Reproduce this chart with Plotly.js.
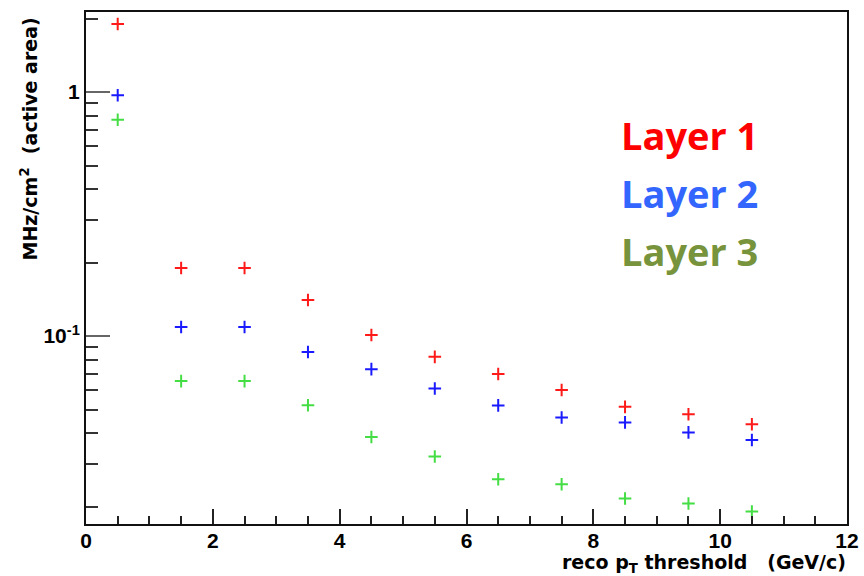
<!DOCTYPE html>
<html>
<head>
<meta charset="utf-8">
<script src="https://cdn.plot.ly/plotly-3.0.1.min.js"></script>
<style>html,body{margin:0;padding:0;background:#fff;}#chart{width:864px;height:576px;}</style>
</head>
<body>
<div id="chart"></div>
<script>
// data
var ptThreshold = [0.5, 1.5, 2.5, 3.5, 4.5, 5.5, 6.5, 7.5, 8.5, 9.5, 10.5];
var layer1 = [1.90, 0.190, 0.190, 0.1405, 0.101, 0.0822, 0.0699, 0.0601, 0.0513, 0.0478, 0.0435];
var layer2 = [0.97, 0.109, 0.109, 0.086, 0.0732, 0.0610, 0.0520, 0.0464, 0.0443, 0.0403, 0.0375];
var layer3 = [0.77, 0.0654, 0.0654, 0.0521, 0.0386, 0.0321, 0.0259, 0.0247, 0.0216, 0.0206, 0.0191];
var seriesNames = ["Layer 1", "Layer 2", "Layer 3"];
var xTickVals = [0, 2, 4, 6, 8, 10, 12];
var xTickText = ["0", "2", "4", "6", "8", "10", "12"];
var yTickVals = [0.1, 1];
var yTickText = ["10<sup>-1</sup>", "1"];
var yMinorVals = [0.02, 0.03, 0.04, 0.05, 0.06, 0.07, 0.08, 0.09, 0.2, 0.3, 0.4, 0.5, 0.6, 0.7, 0.8, 0.9, 2];

var markerColors = ["#ff1a1a", "#1a1aff", "#44dd44"];
var labelColors = ["#ff0000", "#3366ff", "#77933c"];

function tr(y, i) {
  return {
    x: ptThreshold, y: y, type: "scatter", mode: "markers", name: seriesNames[i],
    marker: {symbol: "cross-thin", size: 9, color: markerColors[i],
             line: {color: markerColors[i], width: 2}},
    showlegend: false, hoverinfo: "x+y"
  };
}
var data = [tr(layer1, 0), tr(layer2, 1), tr(layer3, 2)];

var tickFont = {family: "Liberation Sans, Arial, sans-serif", size: 21, color: "#000", weight: 700};
var titleFont = {family: "DejaVu Sans, sans-serif", size: 19, color: "#000", weight: 700};
var labelFont = {family: "Open Sans, sans-serif", size: 38, weight: 700};

var layout = {
  width: 864, height: 576,
  margin: {l: 86, r: 17, t: 12, b: 52},
  paper_bgcolor: "#fff", plot_bgcolor: "#fff",
  showlegend: false,
  xaxis: {
    range: [0, 12], tickmode: "array", tickvals: xTickVals, ticktext: xTickText,
    ticks: "inside", ticklen: 15, tickwidth: 2, tickcolor: "#222",
    showline: true, linecolor: "#111", linewidth: 2, mirror: true,
    showgrid: false, zeroline: false, tickfont: tickFont, ticklabelstandoff: -3,
    minor: {dtick: 0.5, ticks: "inside", ticklen: 8, tickwidth: 2, tickcolor: "#222", showgrid: false}
  },
  yaxis: {
    type: "log", range: [-1.770, 0.328], tickmode: "array", tickvals: yTickVals, ticktext: yTickText,
    ticks: "inside", ticklen: 24, tickwidth: 2, tickcolor: "#666",
    showline: true, linecolor: "#111", linewidth: 2, mirror: true,
    showgrid: false, zeroline: false, tickfont: tickFont,
    minor: {tickmode: "array", tickvals: yMinorVals, ticks: "inside", ticklen: 12, tickwidth: 2, tickcolor: "#333", showgrid: false}
  },
  annotations: [
    {xref: "paper", yref: "paper", x: 1.0, y: -0.0508, xanchor: "right", yanchor: "top", borderpad: 0,
     text: "reco p<sub>T</sub> threshold&nbsp;&nbsp;&nbsp;(GeV/c)", showarrow: false, font: titleFont},
    {xref: "paper", yref: "paper", x: -0.075, y: 0.994, xanchor: "center", yanchor: "top", textangle: -90,
     text: "MHz/cm<sup>2</sup>&nbsp;&nbsp;(active area)", showarrow: false, font: titleFont},
    {xref: "paper", yref: "paper", x: 0.700, y: 0.760, xanchor: "left", yanchor: "middle",
     text: seriesNames[0], showarrow: false, font: Object.assign({}, labelFont, {color: labelColors[0]})},
    {xref: "paper", yref: "paper", x: 0.700, y: 0.647, xanchor: "left", yanchor: "middle",
     text: seriesNames[1], showarrow: false, font: Object.assign({}, labelFont, {color: labelColors[1]})},
    {xref: "paper", yref: "paper", x: 0.700, y: 0.533, xanchor: "left", yanchor: "middle",
     text: seriesNames[2], showarrow: false, font: Object.assign({}, labelFont, {color: labelColors[2]})}
  ]
};

Plotly.newPlot("chart", data, layout, {displayModeBar: false, staticPlot: true});
</script>
</body>
</html>
